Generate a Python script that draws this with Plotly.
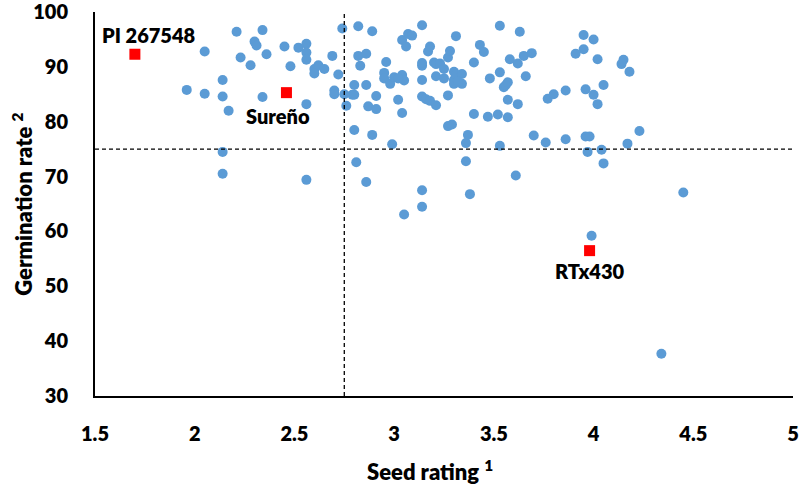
import plotly.graph_objects as go

# Seed rating (x) and germination rate (y) for accessions
seed_rating = [
    2.21, 2.34, 2.05, 2.30, 2.31, 2.23, 2.36, 2.28, 2.45, 2.52,
    2.56, 2.56, 2.56, 2.48, 2.60, 2.62, 2.60, 2.65, 2.69, 2.72,
    2.74, 2.14, 1.96, 2.05, 2.14, 2.17, 2.34, 2.56, 2.70, 2.70,
    2.75, 2.76, 2.14, 2.14, 2.56,
    2.82, 2.89, 2.82, 2.86, 2.83, 2.80, 2.86, 2.79, 2.80, 2.91,
    2.87, 2.91, 2.80, 2.89, 2.99, 2.81, 2.86, 3.14, 3.38, 3.61,
    3.36, 3.36, 3.37, 3.53, 3.70, 3.76, 3.86, 3.27, 3.29, 3.40,
    3.47, 3.52, 3.57, 3.04, 3.02, 3.14, 3.16, 3.18, 3.21, 3.27,
    3.14, 3.14, 3.14, 3.14, 2.96, 2.95, 2.95, 2.98, 3.00, 3.04,
    3.05, 3.02, 3.04, 3.06, 3.07, 3.09, 3.17, 3.18, 3.20, 3.21,
    3.23, 3.25, 3.21, 3.25, 3.27, 3.28, 3.31, 3.30, 3.30, 3.30,
    3.31, 3.34, 3.34, 3.32, 3.40, 3.43, 3.45, 3.48, 3.53, 3.63,
    3.58, 3.62, 3.65, 3.69, 3.53, 3.66, 3.55, 3.56, 3.57, 3.57,
    3.62, 3.77, 3.80, 3.86,
    3.95, 4.00, 3.95, 3.91, 4.02, 4.15, 4.14, 4.18, 4.05, 3.96,
    4.00, 4.02, 3.96, 3.98, 3.97, 4.04, 4.05, 4.17, 4.23, 4.45,
    3.14, 3.05, 3.99, 4.34,
]
germination_rate = [
    96.4, 96.7, 92.8, 94.6, 93.9, 91.7, 92.3, 90.3, 93.7, 93.5,
    94.2, 92.6, 91.3, 90.1, 89.6, 90.3, 88.8, 89.6, 92.0, 88.6,
    97.0, 87.6, 85.8, 85.1, 84.6, 82.0, 84.5, 83.2, 85.7, 85.0,
    85.0, 82.9, 74.5, 70.5, 69.4,
    97.4, 96.5, 92.0, 92.4, 90.2, 86.7, 86.7, 84.9, 84.9, 84.7,
    82.8, 82.3, 78.5, 77.6, 75.9, 72.6, 69.0, 67.5, 66.8, 70.2,
    72.8, 76.1, 77.6, 75.6, 77.5, 76.2, 76.8, 79.2, 79.5, 81.4,
    80.9, 81.3, 80.8, 81.6, 84.0, 84.6, 84.1, 83.8, 83.0, 84.8,
    87.6, 90.2, 90.7, 97.6, 90.9, 88.9, 87.9, 86.9, 88.1, 88.5,
    87.5, 87.9, 94.9, 93.7, 96.0, 95.7, 92.8, 93.7, 90.8, 90.5,
    90.6, 89.6, 88.3, 87.9, 91.7, 92.9, 95.6, 89.1, 87.6, 86.9,
    88.6, 88.7, 86.9, 87.3, 90.8, 94.0, 92.7, 87.9, 97.5, 96.4,
    91.4, 90.6, 92.0, 92.5, 89.0, 88.3, 86.3, 86.7, 87.2, 84.0,
    83.2, 84.2, 85.0, 85.7,
    95.8, 95.0, 93.2, 92.4, 91.4, 91.3, 90.5, 89.1, 86.7, 85.9,
    84.9, 83.2, 77.3, 77.3, 74.5, 74.9, 72.4, 76.0, 78.3, 67.1,
    64.5, 63.1, 59.2, 37.7,
]

# Highlighted checks
check_names = ["PI 267548", "Sureño", "RTx430"]
check_rating = [1.70, 2.46, 3.98]
check_germ = [92.3, 85.3, 56.5]

seed_cutoff = 2.75
germ_cutoff = 75

x_range = [1.5, 5]
y_range = [30, 100]
x_ticks = [1.5, 2, 2.5, 3, 3.5, 4, 4.5, 5]
x_tick_labels = ["1.5", "2", "2.5", "3", "3.5", "4", "4.5", "5"]
y_ticks = [30, 40, 50, 60, 70, 80, 90, 100]
x_title = "Seed rating <sup>1</sup>"
y_title = "Germination rate <sup>2</sup>"

FONT = "Lato"
W = 800

fig = go.Figure()
fig.add_trace(go.Scatter(
    x=seed_rating, y=germination_rate, mode="markers",
    marker=dict(color="#5B9BD5", size=10, line=dict(width=0)),
    showlegend=False, hoverinfo="x+y",
))
fig.add_trace(go.Scatter(
    x=check_rating, y=check_germ, mode="markers",
    marker=dict(color="#FF0000", size=11, symbol="square", line=dict(width=0)),
    showlegend=False, text=check_names, hoverinfo="text+x+y",
))

label_shift = [(14, 19), (-8, -23), (0, -20)]
for name, xv, yv, (dx, dy) in zip(check_names, check_rating, check_germ, label_shift):
    fig.add_annotation(x=xv, y=yv, text=name, showarrow=False,
                       xshift=dx, yshift=dy,
                       font=dict(family=FONT, size=20, color="black", weight=W))

# axis titles
fig.add_annotation(xref="paper", yref="paper", x=0.48, y=-0.195, text=x_title,
                   showarrow=False, xanchor="center", yanchor="middle",
                   font=dict(family=FONT, size=22, color="black", weight=W))
fig.add_annotation(xref="paper", yref="paper", x=-0.105, y=0.5, text=y_title,
                   showarrow=False, xanchor="center", yanchor="middle", textangle=-90,
                   font=dict(family=FONT, size=22, color="black", weight=W))

dash = "4px,3px"
fig.add_shape(type="line", x0=seed_cutoff, x1=seed_cutoff, y0=y_range[0], y1=y_range[1],
              xref="x", yref="y", line=dict(color="black", width=1.3, dash=dash))
fig.add_shape(type="line", x0=x_range[0], x1=x_range[1], y0=germ_cutoff, y1=germ_cutoff,
              xref="x", yref="y", line=dict(color="black", width=1.3, dash=dash))

fig.update_layout(
    width=800, height=484,
    margin=dict(l=95, r=7, t=12, b=88),
    paper_bgcolor="white", plot_bgcolor="white",
    font=dict(family=FONT, color="black"),
)
fig.update_xaxes(
    range=x_range, tickvals=x_ticks, ticktext=x_tick_labels,
    showgrid=False, zeroline=False, showline=True, linecolor="black", linewidth=2,
    ticks="", ticklabelstandoff=19, automargin=False, ticklabeloverflow="allow",
    tickfont=dict(family=FONT, size=20, color="black", weight=W),
)
fig.update_yaxes(
    range=y_range, tickvals=y_ticks, ticktext=[str(t) for t in y_ticks],
    showgrid=False, zeroline=False, showline=True, linecolor="black", linewidth=2,
    ticks="", ticklabelstandoff=21, automargin=False, ticklabeloverflow="allow",
    tickfont=dict(family=FONT, size=20, color="black", weight=W),
)

fig.write_html("out.html", config={"displayModeBar": False},
               post_script="document.body.style.margin='0';document.body.style.overflow='hidden';")
